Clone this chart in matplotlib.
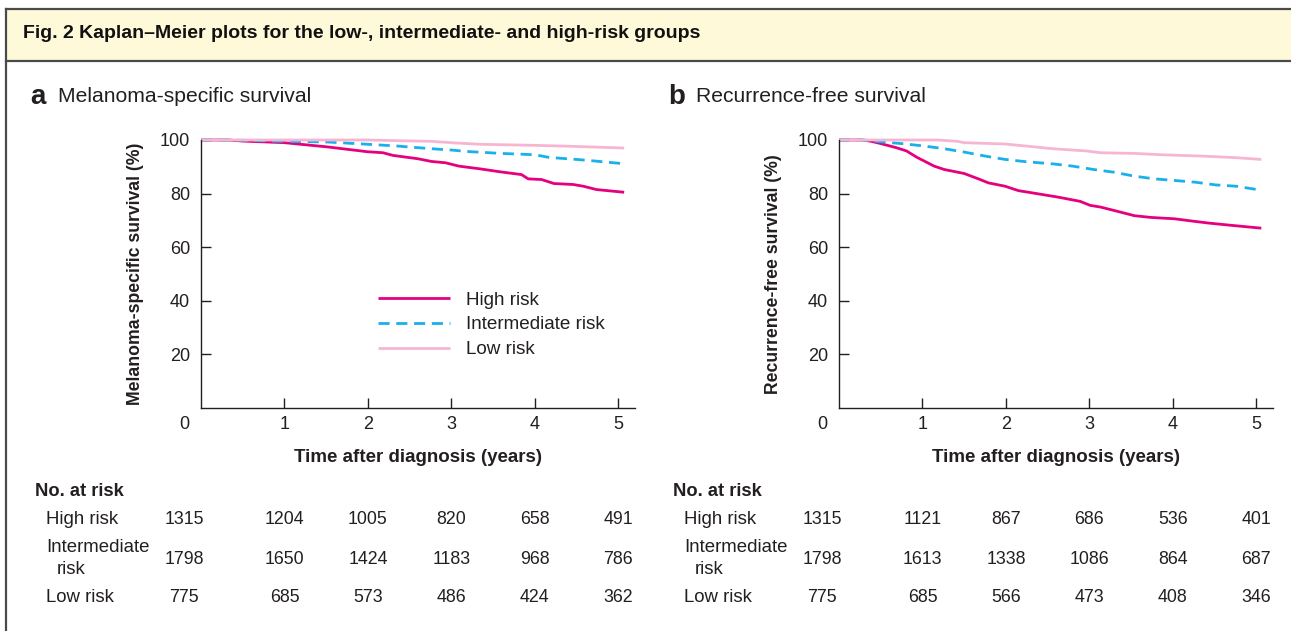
import matplotlib
matplotlib.use("Agg")
import matplotlib.pyplot as plt
import matplotlib.transforms as mtransforms
from matplotlib.lines import Line2D
from matplotlib.patches import Rectangle

plt.rcParams["font.family"] = ["Liberation Sans", "DejaVu Sans"]

# ---- data ------------------------------------------------------------------
groups = ["High risk", "Intermediate risk", "Low risk"]

# panel a: melanoma-specific survival (%)
mss_high_t = [0, 0.33, 0.5, 1.0, 1.52, 2.0, 2.18, 2.3, 2.6, 2.76, 2.93, 3.09, 3.34, 3.59,
              3.84, 3.92, 4.08, 4.23, 4.46, 4.58, 4.74, 5.07]
mss_high_s = [100, 100, 99.6, 99.0, 97.4, 95.6, 95.25, 94.25, 93.0, 92.0, 91.5, 90.25, 89.25,
              88.1, 87.1, 85.5, 85.25, 83.75, 83.4, 82.75, 81.5, 80.5]
mss_int_t = [0, 0.5, 1.0, 1.52, 2.0, 2.35, 2.76, 3.0, 3.17, 3.59, 4.0, 4.17, 4.5, 4.74, 5.03]
mss_int_s = [100, 99.9, 99.5, 99.25, 98.4, 97.75, 96.75, 96.25, 95.75, 95.0, 94.5, 93.5, 92.75,
             92.1, 91.25]
mss_low_t = [0, 2.0, 2.35, 2.76, 3.0, 3.34, 4.0, 4.33, 4.83, 5.07]
mss_low_s = [100, 100, 99.75, 99.5, 99.0, 98.4, 98.0, 97.75, 97.25, 97.0]

# panel b: recurrence-free survival (%)
rfs_high_t = [0, 0.28, 0.37, 0.49, 0.69, 0.81, 0.93, 1.14, 1.26, 1.5, 1.67, 1.79, 1.99, 2.15,
              2.32, 2.64, 2.89, 3.01, 3.13, 3.29, 3.54, 3.74, 4.02, 4.27, 4.43, 4.67, 5.06]
rfs_high_s = [100, 100, 99.6, 98.75, 97.1, 95.9, 93.6, 90.25, 89.0, 87.5, 85.5, 84.0, 82.75,
              81.1, 80.25, 78.6, 77.1, 75.6, 75.0, 73.75, 71.75, 71.1, 70.6, 69.6, 69.0,
              68.25, 67.1]
rfs_int_t = [0, 0.28, 0.53, 0.77, 1.02, 1.26, 1.5, 1.75, 1.99, 2.24, 2.56, 2.8, 3.05, 3.29,
             3.54, 3.78, 4.02, 4.27, 4.51, 4.76, 5.06]
rfs_int_s = [100, 100, 99.25, 98.6, 97.75, 96.75, 95.5, 94.0, 92.75, 91.9, 91.1, 90.25, 89.0,
             88.0, 86.5, 85.5, 84.9, 84.25, 83.25, 82.75, 81.25]
rfs_low_t = [0, 1.18, 1.42, 1.5, 1.99, 2.24, 2.56, 2.97, 3.13, 3.54, 3.86, 4.35, 4.76, 5.06]
rfs_low_s = [100, 100, 99.5, 99.0, 98.5, 97.75, 96.75, 95.9, 95.25, 95.0, 94.5, 94.0, 93.4,
             92.75]

# numbers at risk at 0..5 years
mss_at_risk_high = [1315, 1204, 1005, 820, 658, 491]
mss_at_risk_int = [1798, 1650, 1424, 1183, 968, 786]
mss_at_risk_low = [775, 685, 573, 486, 424, 362]
rfs_at_risk_high = [1315, 1121, 867, 686, 536, 401]
rfs_at_risk_int = [1798, 1613, 1338, 1086, 864, 687]
rfs_at_risk_low = [775, 685, 566, 473, 408, 346]

years = [0, 1, 2, 3, 4, 5]

# ---- style ------------------------------------------------------------------
C_HIGH = "#e5007d"
C_INT = "#1ab0ea"
C_LOW = "#f6b6d2"
C_TEXT = "#231f20"
C_FRAME = "#4a4a4a"
FS_TICK = 13
FS_TAB = 12.8
FS_LEG = 13.6

W, H = 1291, 631
fig = plt.figure(figsize=(W / 100, H / 100), dpi=100)


def fx(px):
    return px / W


def fy(py):
    return 1 - py / H


# header band and frame
fig.patches.append(Rectangle((fx(6), fy(61)), 1 - fx(6), fy(9) - fy(61),
                             transform=fig.transFigure, facecolor="#fef9d8",
                             edgecolor="none", zorder=0))
for xs, ys in [((fx(6), 1), (fy(9), fy(9))),
               ((fx(6), 1), (fy(61), fy(61))),
               ((fx(6), fx(6)), (fy(9), 0))]:
    fig.add_artist(Line2D(xs, ys, transform=fig.transFigure, color=C_FRAME, lw=1.6))
fig.text(fx(23), fy(34), "Fig. 2 Kaplan\u2013Meier plots for the low-, intermediate- and high-risk groups",
         fontsize=14, fontweight="bold", color="#111111", va="center", ha="left")


def draw_panel(left_px, letter, title, ylabel, curves, at_risk, legend):
    ax = fig.add_axes([fx(left_px), fy(408), 434 / W, 268 / H])
    styles = [dict(color=C_HIGH, lw=2.0),
              dict(color=C_INT, lw=2.0, dashes=(4, 2.4)),
              dict(color=C_LOW, lw=2.0)]
    for (t, s), st, name in zip(curves, styles, groups):
        ax.plot(t, s, label=name, clip_on=False, solid_capstyle="butt", **st)
    ax.set_xlim(0, 5.2)
    ax.set_ylim(0, 100)
    for side in ("top", "right"):
        ax.spines[side].set_visible(False)
    for side in ("left", "bottom"):
        ax.spines[side].set_color(C_TEXT)
        ax.spines[side].set_linewidth(1.0)
    ax.set_xticks(years[1:])
    ax.set_yticks([20, 40, 60, 80, 100])
    ax.tick_params(axis="both", direction="in", length=7, width=1.0, color=C_TEXT,
                   labelsize=FS_TICK, labelcolor=C_TEXT)
    ax.tick_params(axis="x", pad=6)
    ax.tick_params(axis="y", pad=8)
    ax.annotate("0", xy=(-0.2, 0), xycoords=("data", "axes fraction"),
                xytext=(0, -6), textcoords="offset points", ha="center", va="top",
                fontsize=FS_TICK, color=C_TEXT, annotation_clip=False)
    ax.set_xlabel("Time after diagnosis (years)", fontsize=13.5, fontweight="bold",
                  color=C_TEXT, labelpad=11)
    ax.set_ylabel(ylabel, fontsize=12.7, fontweight="bold", color=C_TEXT, labelpad=11)

    fig.text(fx(left_px - 171), fy(97), letter, fontsize=20, fontweight="bold",
             color=C_TEXT, va="center", ha="left")
    fig.text(fx(left_px - 143), fy(97), title, fontsize=15.2, color=C_TEXT,
             va="center", ha="left")

    if legend:
        ax.legend(loc="upper left", bbox_to_anchor=(0.408, 0.435), frameon=False,
                  fontsize=FS_LEG, handlelength=3.8, handletextpad=0.85, labelspacing=0.4,
                  borderpad=0, borderaxespad=0, labelcolor=C_TEXT)

    # numbers at risk table
    trans = mtransforms.blended_transform_factory(ax.transData, fig.transFigure)
    fig.text(fx(left_px - 166), fy(491), "No. at risk", fontsize=FS_TAB + 0.4,
             fontweight="bold", color=C_TEXT, va="center", ha="left")
    row_y = [519, 559, 598]
    fig.text(fx(left_px - 155), fy(519), "High risk", fontsize=FS_TAB + 0.6, color=C_TEXT, va="center")
    fig.text(fx(left_px - 155), fy(548), "Intermediate", fontsize=FS_TAB + 0.6, color=C_TEXT, va="center")
    fig.text(fx(left_px - 144), fy(570), "risk", fontsize=FS_TAB + 0.6, color=C_TEXT, va="center")
    fig.text(fx(left_px - 155), fy(598), "Low risk", fontsize=FS_TAB + 0.6, color=C_TEXT, va="center")
    col_x = [-0.2] + years[1:]
    for counts, py in zip(at_risk, row_y):
        for x, n in zip(col_x, counts):
            fig.text(x, fy(py), str(n), transform=trans, fontsize=FS_TAB, color=C_TEXT,
                     ha="center", va="center")
    return ax


draw_panel(201, "a", "Melanoma-specific survival", "Melanoma-specific survival (%)",
           [(mss_high_t, mss_high_s), (mss_int_t, mss_int_s), (mss_low_t, mss_low_s)],
           [mss_at_risk_high, mss_at_risk_int, mss_at_risk_low], legend=True)
draw_panel(839, "b", "Recurrence-free survival", "Recurrence-free survival (%)",
           [(rfs_high_t, rfs_high_s), (rfs_int_t, rfs_int_s), (rfs_low_t, rfs_low_s)],
           [rfs_at_risk_high, rfs_at_risk_int, rfs_at_risk_low], legend=False)

fig.savefig("out.png", dpi=100)
